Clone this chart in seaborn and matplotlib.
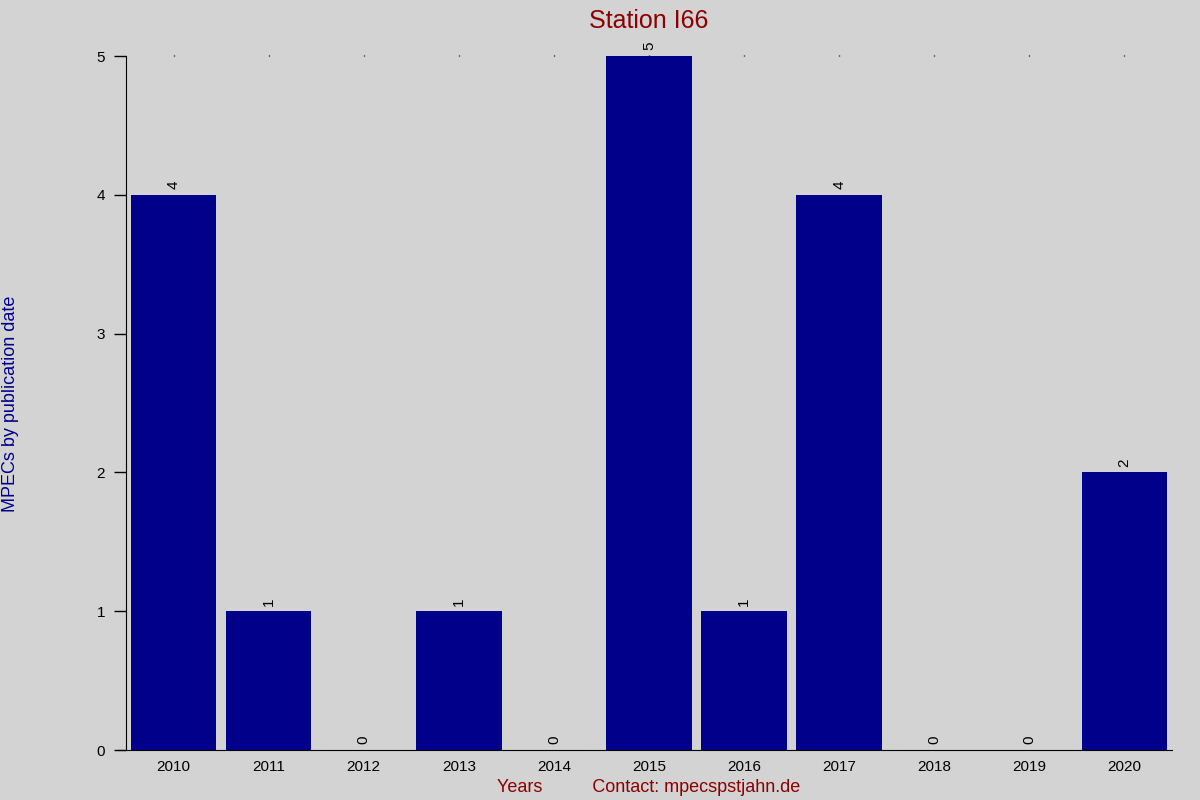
import matplotlib
matplotlib.use('Agg')
import matplotlib.pyplot as plt
import seaborn as sns
import pandas as pd

# data
years = ['2010', '2011', '2012', '2013', '2014', '2015', '2016', '2017', '2018', '2019', '2020']
counts = [4, 1, 0, 1, 0, 5, 1, 4, 0, 0, 2]

df = pd.DataFrame({'year': years, 'count': counts})

sns.set_style('white')
plt.rcParams['font.family'] = ['Liberation Sans', 'DejaVu Sans']

fig = plt.figure(figsize=(12, 8), dpi=100, facecolor='#d3d3d3')
ax = fig.add_axes([0.105, 0.0625, 0.8717, 0.8675])
ax.set_facecolor('#d3d3d3')

sns.barplot(data=df, x='year', y='count', color='#00008b', saturation=1,
            width=0.9, edgecolor='none', linewidth=0, ax=ax)

# value labels above each bar
for i, v in enumerate(counts):
    ax.text(i, v + 0.04, str(v), rotation=90, ha='center', va='bottom',
            fontsize=11, color='black')

ax.set_xlim(-0.5, len(years) - 0.5)
ax.set_ylim(0, 5)
ax.set_yticks(range(0, 6))

for s in ['top', 'right']:
    ax.spines[s].set_visible(False)
ax.spines['left'].set_color('black')
ax.spines['bottom'].set_color('black')
ax.spines['bottom'].set_bounds(-0.58, len(years) - 0.5)

ax.tick_params(axis='y', left=True, length=9, width=1, labelsize=11,
               color='black', labelcolor='black', pad=6)
ax.tick_params(axis='x', bottom=False, top=True, length=1, width=1,
               labelsize=11, color='black', labelcolor='black', pad=6)

ax.set_title('Station I66', color='#8b0000', fontsize=18, pad=20)
ax.set_xlabel('Years          Contact: mpecspstjahn.de', color='#8b0000', fontsize=13, labelpad=4)
ax.set_ylabel('')
fig.text(11 / 1200, 0.495, 'MPECs by publication date', color='#00008b', fontsize=13,
         rotation=90, ha='center', va='center')

fig.savefig('out.png', dpi=100, facecolor=fig.get_facecolor())
